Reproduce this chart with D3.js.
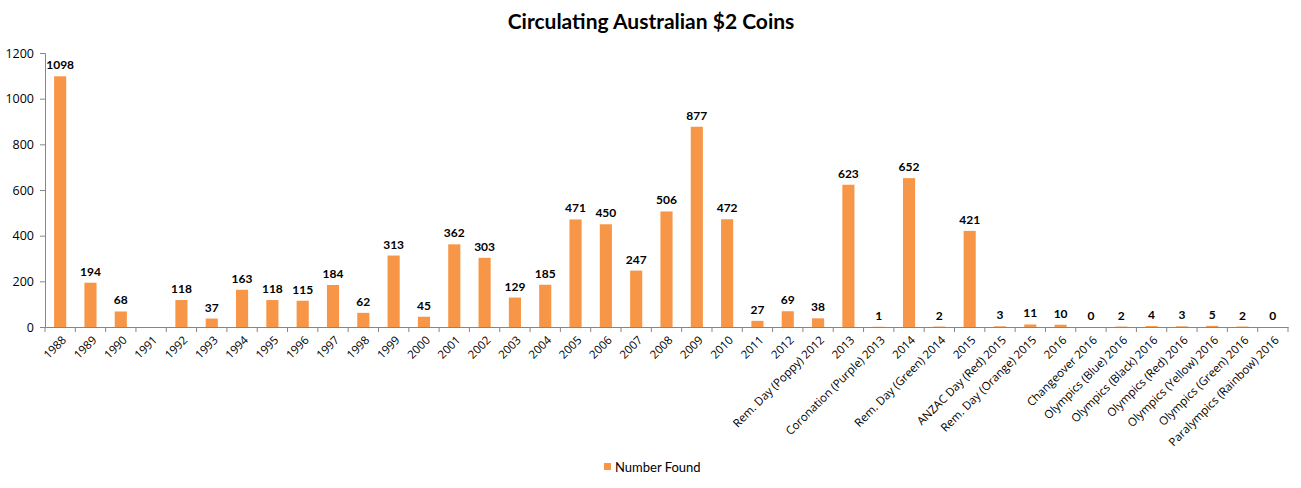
<!DOCTYPE html>
<html><head><meta charset="utf-8">
<script src="https://cdn.jsdelivr.net/npm/d3@7"></script>
<style>body{margin:0;background:#fff}svg{display:block}text{font-family:Lato,"Open Sans",sans-serif}</style>
</head><body>
<script>
const categories = ["1988","1989","1990","1991","1992","1993","1994","1995","1996","1997","1998","1999","2000","2001","2002","2003","2004","2005","2006","2007","2008","2009","2010","2011","2012","Rem. Day (Poppy) 2012","2013","Coronation (Purple) 2013","2014","Rem. Day (Green) 2014","2015","ANZAC Day (Red) 2015","Rem. Day (Orange) 2015","2016","Changeover 2016","Olympics (Blue) 2016","Olympics (Black) 2016","Olympics (Red) 2016","Olympics (Yellow) 2016","Olympics (Green) 2016","Paralympics (Rainbow) 2016"];
const values = [1098,194,68,null,118,37,163,118,115,184,62,313,45,362,303,129,185,471,450,247,506,877,472,27,69,38,623,1,652,2,421,3,11,10,0,2,4,3,5,2,0];
const yTicks = [0,200,400,600,800,1000,1200];
const title = "Circulating Australian $2 Coins";
const seriesName = "Number Found";

const W=1301,H=488;
const m={left:45,right:13,top:53,bottom:161};
const svg=d3.select("body").append("svg").attr("width",W).attr("height",H);
const x=d3.scaleBand().domain(categories).range([m.left,W-m.right]).paddingInner(0.6).paddingOuter(0.3);
const y=d3.scaleLinear().domain([0,1200]).range([H-m.bottom,m.top]);

svg.append("text").attr("x",651).attr("y",29).attr("text-anchor","middle")
  .style("font-size","21px").style("font-weight","bold").text(title);

const ya=svg.append("g").attr("transform",`translate(${m.left},0)`)
  .call(d3.axisLeft(y).tickValues(yTicks).tickFormat(d3.format("d")).tickSize(5).tickPadding(6));
ya.select(".domain").attr("stroke","#868686");
ya.selectAll(".tick line").attr("stroke","#868686");
ya.selectAll("text").style("font-size","12.5px").attr("fill","#000").style("font-family","'Open Sans',sans-serif");

const xb=d3.scaleBand().domain(categories).range([m.left,W-m.right]);
const xa=svg.append("g").attr("transform",`translate(0,${y(0)})`)
  .call(d3.axisBottom(xb).tickSize(0).tickFormat(""));
xa.select(".domain").attr("stroke","#868686");
svg.append("g").selectAll("line").data(categories).join("line")
  .attr("x1",d=>xb(d)).attr("x2",d=>xb(d)).attr("y1",y(0)).attr("y2",y(0)+5).attr("stroke","#868686");
svg.append("line").attr("x1",W-m.right).attr("x2",W-m.right).attr("y1",y(0)).attr("y2",y(0)+5).attr("stroke","#868686");

svg.append("g").selectAll("text").data(categories).join("text")
  .attr("transform",d=>`translate(${xb(d)+xb.bandwidth()/2+4},${y(0)+11}) rotate(-45)`)
  .attr("text-anchor","end").attr("dy","0.35em")
  .style("font-size","11.5px").style("font-family","'Open Sans',sans-serif").text(d=>d);

const data=categories.map((c,i)=>({c,v:values[i]})).filter(d=>d.v!==null);
svg.append("g").selectAll("rect").data(data).join("rect")
  .attr("x",d=>x(d.c)).attr("width",x.bandwidth())
  .attr("y",d=>y(d.v)).attr("height",d=>y(0)-y(d.v))
  .attr("fill","#F79646");
svg.append("g").selectAll("text").data(data).join("text")
  .attr("x",d=>x(d.c)+x.bandwidth()/2).attr("y",d=>y(d.v)-7)
  .attr("text-anchor","middle").style("font-size","12px").style("font-weight","bold").text(d=>d.v);

const lg=svg.append("g").attr("transform","translate(604,467)");
lg.append("rect").attr("x",0).attr("y",-4).attr("width",7).attr("height",7).attr("fill","#F79646");
lg.append("text").attr("x",11).attr("y",0).attr("dy","0.35em").style("font-size","13px").text(seriesName);
</script>
</body></html>
